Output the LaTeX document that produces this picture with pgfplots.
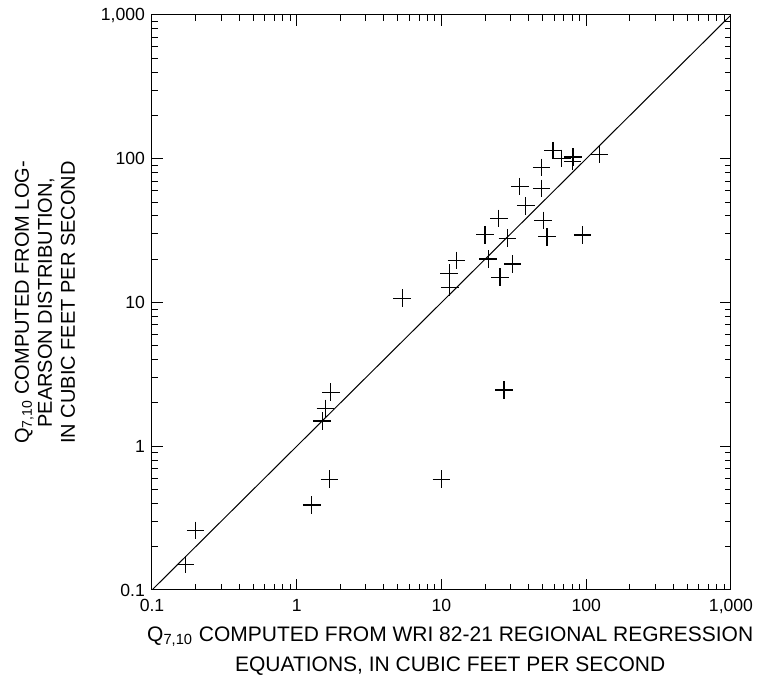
\documentclass[border=0pt]{standalone}
\usepackage{fontspec}
\setmainfont{Liberation Sans}
\usepackage{pgfplots}
\pgfplotsset{compat=1.18}

\begin{document}
\begin{tikzpicture}
% fixed frame so the margins match the reference
\useasboundingbox (-76pt,-47.5pt) rectangle (305pt,295pt);
\begin{axis}[
  at={(0,0)}, anchor=south west,
  scale only axis, width=289.5pt, height=287.5pt,
  xmode=log, ymode=log,
  xmin=0.1, xmax=1000, ymin=0.1, ymax=1000,
  axis line style={line width=0.5pt},
  tick align=inside,
  major tick length=5.5pt, minor tick length=3pt,
  every tick/.style={black, line width=0.5pt},
  xtick={0.1,1,10,100,1000}, xticklabels={0.1,1,10,100,{1,000}},
  ytick={0.1,1,10,100,1000}, yticklabels={0.1,1,10,100,{1,000}},
  minor xtick={0.2,0.3,0.4,0.5,0.6,0.7,0.8,0.9,2,3,4,5,6,7,8,9,20,30,40,50,60,70,80,90,200,300,400,500,600,700,800,900},
  minor ytick={0.2,0.3,0.4,0.5,0.6,0.7,0.8,0.9,2,3,4,5,6,7,8,9,20,30,40,50,60,70,80,90,200,300,400,500,600,700,800,900},
  /pgf/number format/assume math mode=true,
  tick label style={font=\fontsize{8.8}{10}\selectfont},
  xticklabel style={yshift=-1pt},
  xlabel={Q\textsubscript{7,10} COMPUTED FROM WRI 82-21 REGIONAL REGRESSION\\EQUATIONS, IN CUBIC FEET PER SECOND},
  xlabel style={font=\fontsize{10.5}{15}\selectfont, align=center,
    at={(axis description cs:0.515,-0.052)}, anchor=north},
  ylabel={Q\textsubscript{7,10} COMPUTED FROM LOG-\\PEARSON DISTRIBUTION,\\IN CUBIC FEET PER SECOND},
  ylabel style={font=\fontsize{10}{11.5}\selectfont, align=center,
    at={(axis description cs:-0.185,0.5)}, anchor=center},
]
\addplot[black, line width=0.5pt] coordinates {(0.1,0.1) (1000,1000)};
\addplot[only marks, mark=+, mark size=4.4pt, line width=0.6pt, black] coordinates {
(0.17,0.15) (0.20,0.26) (1.27,0.39) (1.68,0.59) (10,0.59)
(1.5,1.5) (1.58,1.83) (1.72,2.38) (27,2.46) (5.35,10.7)
(11.4,12.7) (11.3,16) (12.7,19.6) (20,29.6) (21,20.1)
(25.4,15) (24.9,38.5) (28.6,28) (31,18.5) (34.8,64)
(38.2,47) (49.2,62.2) (49.2,87) (50.5,37.3) (53.5,28.6)
(59,114) (67.7,100.7) (81,103) (80.5,95.5) (94.4,29.5)
(123,107)};
\end{axis}
\end{tikzpicture}
\end{document}
